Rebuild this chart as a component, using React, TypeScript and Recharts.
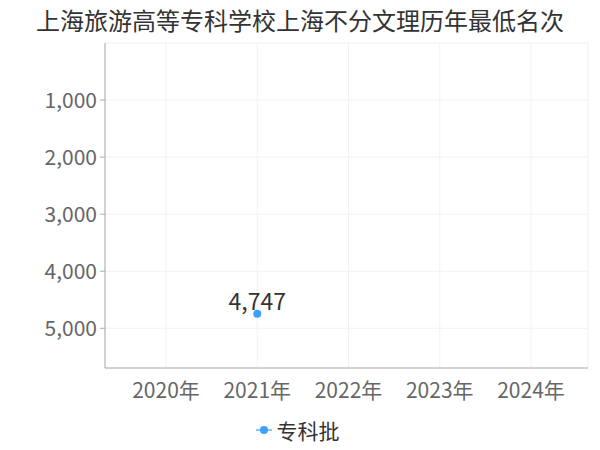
import React, { useEffect } from 'react';
import { LineChart, Line, XAxis, YAxis, CartesianGrid, LabelList } from 'recharts';

const years = ['2020年', '2021年', '2022年', '2023年', '2024年'];
const ranks: (number | null)[] = [null, 4747, null, null, null];
const yTicks = [1000, 2000, 3000, 4000, 5000];

const data = years.map((year, i) => ({ year, rank: ranks[i] }));

const font = '"Noto Sans CJK SC", "Noto Sans", sans-serif';
const blue = '#3ba0ff';

const fmt = (v: number) => v.toLocaleString('en-US');

export default function App() {
  useEffect(() => {
    document.body.style.margin = '0';
  }, []);
  return (
    <div style={{ position: 'relative', width: 600, height: 450, background: '#fff' }}>
      <div
        style={{
          position: 'absolute',
          top: 2,
          left: 0,
          width: 600,
          textAlign: 'center',
          fontFamily: font,
          fontSize: 24,
          color: '#333',
        }}
      >
        上海旅游高等专科学校上海不分文理历年最低名次
      </div>
      <LineChart width={600} height={450} data={data} margin={{ top: 43, right: 12, left: 0, bottom: 52 }}>
        <CartesianGrid stroke="#f2f2f2" />
        <XAxis
          dataKey="year"
          padding={{ left: 61, right: 57 }}
          tick={{ fontSize: 21, fill: '#666', fontFamily: font }}
          axisLine={{ stroke: '#aaa' }}
          tickLine={false}
          tickMargin={9}
          height={30}
        />
        <YAxis
          reversed
          domain={[0, 5696]}
          ticks={yTicks}
          tickFormatter={fmt}
          width={105}
          tick={{ fontSize: 21, fill: '#666', fontFamily: font }}
          axisLine={{ stroke: '#aaa' }}
          tickLine={{ stroke: '#aaa' }}
          tickSize={5}
          tickMargin={3}
        />
        <Line
          dataKey="rank"
          name="专科批"
          stroke={blue}
          strokeWidth={2}
          dot={{ r: 4, fill: blue, stroke: blue, strokeWidth: 0 }}
          isAnimationActive={false}
        >
          <LabelList
            dataKey="rank"
            position="top"
            offset={4}
            formatter={(v: any) => (v == null ? '' : fmt(v))}
            style={{ fontSize: 23, fill: '#333', fontFamily: font }}
          />
        </Line>
      </LineChart>
      <div
        style={{
          position: 'absolute',
          top: 415,
          left: -3,
          width: 600,
          display: 'flex',
          justifyContent: 'center',
          alignItems: 'center',
          fontFamily: font,
        }}
      >
        <svg width={18} height={12} style={{ marginRight: 4 }}>
          <line x1={1} y1={6} x2={17} y2={6} stroke={blue} strokeWidth={2} opacity={0.6} />
          <circle cx={9} cy={6} r={4} fill={blue} />
        </svg>
        <span style={{ fontSize: 21, color: '#333' }}>专科批</span>
      </div>
    </div>
  );
}
